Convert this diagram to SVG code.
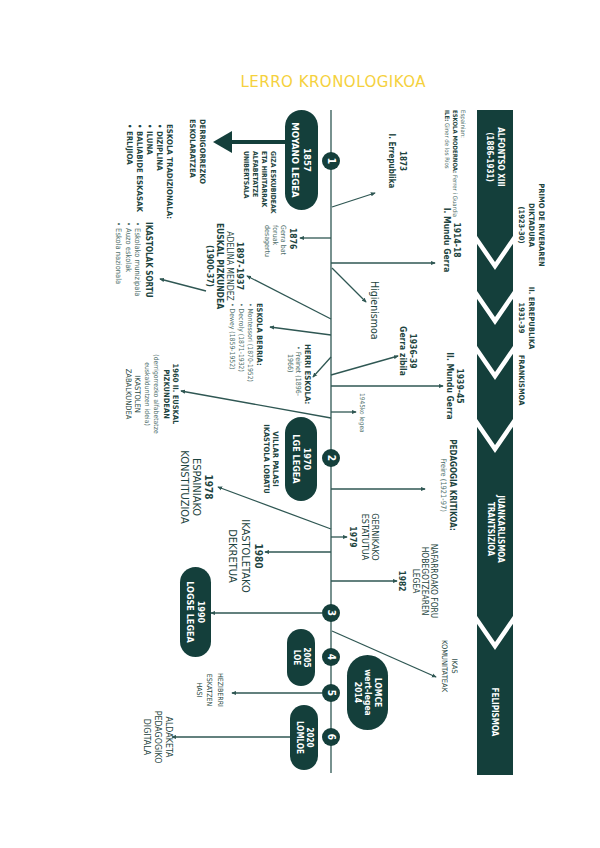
<svg xmlns="http://www.w3.org/2000/svg" width="600" height="848" viewBox="0 0 600 848">
<defs>
<style>
text{font-family:"Liberation Sans Narrow","DejaVu Sans Condensed","Liberation Sans",sans-serif;fill:#1d4440}
.b{font-weight:700}
.w{fill:#fff;font-weight:700}
.l{fill:#4f706c}
.m{text-anchor:middle}
.ln{stroke:#2f5753;stroke-width:1.3;fill:none}
.ar{stroke:#2f5753;stroke-width:1.3;fill:none;marker-end:url(#ah)}
.pill{fill:#143f3b}
.dot{fill:#143f3b}
.v{stroke:#fff;stroke-width:4.5;fill:none}
</style>
<marker id="ah" viewBox="0 0 6 6" refX="5" refY="3" markerWidth="5" markerHeight="5" markerUnits="userSpaceOnUse" orient="auto"><path d="M0,0.5 L6,3 L0,5.5z" fill="#2f5753"/></marker>
</defs>
<rect width="600" height="848" fill="#fff"/>
<text id="title" x="333" y="87" text-anchor="middle" font-size="15" textLength="185" style="font-family:'DejaVu Sans',sans-serif;fill:#f5d13d">LERRO KRONOLOGIKOA</text>
<g transform="translate(600,0) rotate(90)">
<g id="band">
<rect x="110" y="87" width="665" height="36" class="pill"/>
<polyline class="v" points="237,85 266,105 237,125"/>
<polyline class="v" points="292,85 321,105 292,125"/>
<polyline class="v" points="347,85 376,105 347,125"/>
<polyline class="v" points="420,85 449,105 420,125"/>
<polyline class="v" points="617,85 646,105 617,125"/>
<text class="w m" font-size="8"><tspan x="157" y="102.5">ALFONTSO XIII</tspan><tspan x="157" y="113.5">(1886-1931)</tspan></text>
<text class="b m" font-size="7.5"><tspan x="225" y="61">PRIMO DE RIVERAREN</tspan><tspan x="225" y="71">DIKTADURA</tspan><tspan x="225" y="81">(1923-30)</tspan></text>
<text class="b m" font-size="7.5"><tspan x="318" y="71">II. ERREPUBLIKA</tspan><tspan x="318" y="81">1931-39</tspan></text>
<text class="b m" font-size="7.5" x="380" y="81">FRANKISMOA</text>
<text class="w m" font-size="8"><tspan x="529" y="102.5">JUANKARLISMOA</tspan><tspan x="529" y="112.5">TRANTSIZIOA</tspan></text>
<text class="w m" font-size="8" x="712" y="108">FELIPISMOA</text>
</g>
<g id="connectors">
<line class="ln" x1="110" y1="269" x2="773" y2="269"/>
<line class="ar" x1="207" y1="268" x2="193" y2="225"/>
<line class="ar" x1="238" y1="269" x2="238" y2="300"/>
<line class="ar" x1="263" y1="269" x2="263" y2="165"/>
<line class="ar" x1="268" y1="268" x2="302" y2="234"/>
<line class="ar" x1="319" y1="269" x2="276" y2="353"/>
<line class="ar" x1="291" y1="394" x2="279" y2="440"/>
<line class="ar" x1="335" y1="269" x2="327" y2="330"/>
<line class="ar" x1="357" y1="269" x2="377" y2="287"/>
<line class="ar" x1="375" y1="269" x2="356" y2="202"/>
<line class="ar" x1="386" y1="269" x2="386" y2="157"/>
<line class="ar" x1="412" y1="269" x2="412" y2="244"/>
<line class="ar" x1="418" y1="269" x2="391" y2="419"/>
<line class="ar" x1="489" y1="269" x2="489" y2="175"/>
<line class="ar" x1="529" y1="269" x2="487" y2="382"/>
<line class="ar" x1="537" y1="269" x2="537" y2="253"/>
<line class="ar" x1="552" y1="269" x2="552" y2="335"/>
<line class="ar" x1="581" y1="269" x2="581" y2="203"/>
<line class="ar" x1="613" y1="278" x2="613" y2="389"/>
<line class="ar" x1="631" y1="268" x2="677" y2="164"/>
<line class="ar" x1="693" y1="278" x2="693" y2="368"/>
<line class="ar" x1="737" y1="310" x2="737" y2="428"/>
<line x1="142" y1="315" x2="142" y2="370" stroke="#143f3b" stroke-width="4"/>
<polygon points="131,368 153,368 142,387" fill="#143f3b"/>
</g>
<g id="n-espainian"><text class="l" font-size="6"><tspan x="110" y="139">Espainian:</tspan><tspan x="110" y="147"><tspan class="b" style="fill:#1d4440">ESKOLA MODERNOA:</tspan> Ferrer i Guardia</tspan><tspan x="110" y="155"><tspan class="b" style="fill:#1d4440">ILE:</tspan> Giner de los Ríos</tspan></text></g>
<g id="n-1873"><text class="b m" font-size="8"><tspan x="161" y="200">1873</tspan><tspan x="161" y="211">I. Errepublika</tspan></text></g>
<g id="n-1876"><text class="b" font-size="8.5" x="228" y="310">1876</text><text class="l" font-size="7"><tspan x="225" y="319">Gerra bat</tspan><tspan x="225" y="327">foruak</tspan><tspan x="225" y="335">desagertu</tspan></text></g>
<g id="n-1857"><rect class="pill" x="110" y="282" width="100" height="33" rx="16.5"/><text class="w m" font-size="9.5"><tspan x="160" y="296">1857</tspan><tspan x="160" y="308">MOYANO LEGEA</tspan></text></g>
<g id="c1"><circle class="dot" cx="161" cy="269" r="9"/><text class="w m" font-size="10" x="161" y="272.5">1</text></g>
<g id="n-derrig"><text class="b" font-size="7.5"><tspan x="119" y="400">DERRIGORREZKO</tspan><tspan x="119" y="410">ESKOLARATZEA</tspan></text></g>
<g id="n-tradizionala"><text class="b" font-size="7.8"><tspan x="124" y="433">ESKOLA TRADIZIONALA:</tspan><tspan x="124" y="443">• DIZIPLINA</tspan><tspan x="124" y="453">• ILUNA</tspan><tspan x="124" y="463">• BALIABIDE ESKASAK</tspan><tspan x="124" y="473">• ERLIJIOA</tspan></text></g>
<g id="n-giza"><text class="b" font-size="6.8"><tspan x="151" y="329">GIZA ESKUBIDEAK</tspan><tspan x="151" y="338">ETA HIRITARRAK</tspan><tspan x="151" y="347">ALFABETATZE</tspan><tspan x="151" y="356">UNIBERTSALA</tspan></text></g>
<g id="n-1897"><text class="m" font-size="9"><tspan class="b" x="266" y="363">1897-1937</tspan><tspan font-size="8.6" x="266" y="373">ADELINA MENDEZ</tspan><tspan class="b" font-size="8.5" x="266" y="383">EUSKAL PIZKUNDEA</tspan><tspan class="b" font-size="8.5" x="266" y="393">(1900-37)</tspan></text></g>
<g id="n-ikastolak"><text class="b" font-size="8" x="222" y="454">IKASTOLAK SORTU</text><text class="l" font-size="7.5"><tspan x="222" y="465">• Eskolako munizipala</tspan><tspan x="222" y="474">• Auzo eskolak</tspan><tspan x="222" y="484">• Eskola nazionala</tspan></text></g>
<g id="n-eskolaberria"><text class="b" font-size="7.5" x="303" y="343">ESKOLA BERRIA:</text><text class="l" font-size="6.8"><tspan x="303" y="352">• Montessori (1870-1952)</tspan><tspan x="303" y="361">• Decroly (1871-1932)</tspan><tspan x="303" y="370">• Dewey (1859-1952)</tspan></text></g>
<g id="n-herri"><text class="b" font-size="7.8" x="344" y="295">HERRI ESKOLA:</text><text class="l" font-size="7"><tspan x="346" y="304">• Freinet (1896-</tspan><tspan x="354" y="312">1966)</tspan></text></g>
<g id="n-higienismoa"><text font-size="10.5" x="281" y="229">Higienismoa</text></g>
<g id="n-1914"><text class="b m" font-size="8.5"><tspan x="240" y="146">1914-18</tspan><tspan x="240" y="156">I. Mundu Gerra</tspan></text></g>
<g id="n-1936"><text class="b m" font-size="8.5"><tspan x="351" y="190">1936-39</tspan><tspan x="351" y="200">Gerra zibila</tspan></text></g>
<g id="n-1939"><text class="b m" font-size="8.5"><tspan x="386" y="143">1939-45</tspan><tspan x="386" y="153">II. Mundu Gerra</tspan></text></g>
<g id="n-1945"><text class="l" font-size="6.5" x="393" y="240">1945ko legea</text></g>
<g id="n-1960"><text class="m" font-size="7.5"><tspan class="b" x="394" y="427">1960 II. EUSKAL</tspan><tspan class="b" x="394" y="436">PIZKUNDEAN</tspan><tspan class="l" font-size="6.8" x="394" y="446">(derrigorrezko alfabetatze</tspan><tspan class="l" font-size="6.8" x="394" y="455">euskalduntzen ideia)</tspan><tspan x="394" y="465">IKASTOLEN</tspan><tspan x="394" y="474">ZABALKUNDEA</tspan></text></g>
<g id="n-1970"><rect class="pill" x="417" y="283" width="84" height="32" rx="16"/><text class="w m" font-size="9"><tspan x="459" y="296">1970</tspan><tspan x="459" y="307.5">LGE LEGEA</tspan></text></g>
<g id="c2"><circle class="dot" cx="458" cy="269" r="9"/><text class="w m" font-size="10" x="458" y="272.5">2</text></g>
<g id="n-villar"><text class="b m" font-size="7.5"><tspan x="459" y="327">VILLAR PALASI</tspan><tspan x="459" y="336">IKASTOLA LOBATU</tspan></text></g>
<g id="n-pedagogia"><text class="m"><tspan class="b" font-size="8" x="485" y="150">PEDAGOGIA KRITIKOA:</tspan><tspan class="l" font-size="7.4" x="485" y="159">Freire (1921-97)</tspan></text></g>
<g id="n-1978"><text class="m" font-size="11"><tspan class="b" font-size="10" x="487" y="395">1978</tspan><tspan x="487" y="407">ESPAINIAKO</tspan><tspan x="487" y="419">KONSTITUZIOA</tspan></text></g>
<g id="n-1979"><text class="m" font-size="9"><tspan x="537" y="228">GERNIKAKO</tspan><tspan x="537" y="238">ESTATUTUA</tspan><tspan class="b" font-size="8.5" x="537" y="250">1979</tspan></text></g>
<g id="n-1980"><text class="m" font-size="11"><tspan class="b" font-size="10" x="556" y="345">1980</tspan><tspan x="556" y="358">IKASTOLETAKO</tspan><tspan x="556" y="371">DEKRETUA</tspan></text></g>
<g id="n-1982"><text class="m" font-size="8.4"><tspan x="581" y="169">NAFARROAKO FORU</tspan><tspan x="581" y="178">HOBEGOTZEAREN</tspan><tspan x="581" y="187">LEGEA</tspan><tspan class="b" x="581" y="201">1982</tspan></text></g>
<g id="n-1990"><rect class="pill" x="567" y="389" width="90" height="31" rx="15.5"/><text class="w m" font-size="9"><tspan x="612" y="402">1990</tspan><tspan x="612" y="413.5">LOGSE LEGEA</tspan></text></g>
<g id="c3"><circle class="dot" cx="613" cy="269" r="9"/><text class="w m" font-size="10" x="613" y="272.5">3</text></g>
<g id="n-2005"><rect class="pill" x="629" y="285" width="57" height="28" rx="14"/><text class="w m" font-size="8"><tspan x="657.5" y="296.5">2005</tspan><tspan x="657.5" y="306">LOE</tspan></text></g>
<g id="c4"><circle class="dot" cx="657" cy="269" r="9"/><text class="w m" font-size="10" x="657" y="272.5">4</text></g>
<g id="n-2014"><rect class="pill" x="655" y="212" width="75" height="41" rx="20.5"/><text class="w m" font-size="8.5"><tspan x="692.5" y="225">LOMCE</tspan><tspan x="692.5" y="235">wert-legea</tspan><tspan x="692.5" y="245">2014</tspan></text></g>
<g id="c5"><circle class="dot" cx="693" cy="269" r="9"/><text class="w m" font-size="10" x="693" y="272.5">5</text></g>
<g id="n-heziberri"><text class="m" font-size="7"><tspan x="690" y="382">HEZIBERRI</tspan><tspan x="690" y="393">ESKATZEN</tspan><tspan x="690" y="403">HASI</tspan></text></g>
<g id="n-ikas"><text class="m" font-size="7.5"><tspan x="666" y="148">IKAS</tspan><tspan x="666" y="158">KOMUNITATEAK</tspan></text></g>
<g id="n-2020"><rect class="pill" x="705" y="282" width="65" height="28" rx="14"/><text class="w m" font-size="8"><tspan x="737.5" y="293.5">2020</tspan><tspan x="737.5" y="303.5">LOMLOE</tspan></text></g>
<g id="c6"><circle class="dot" cx="737" cy="269" r="9"/><text class="w m" font-size="10" x="737" y="272.5">6</text></g>
<g id="n-aldaketa"><text class="m" font-size="8.8"><tspan x="737" y="434">ALDAKETA</tspan><tspan x="737" y="445">PEDAGOGIKO</tspan><tspan x="737" y="456">DIGITALA</tspan></text></g>
</g>
</svg>
